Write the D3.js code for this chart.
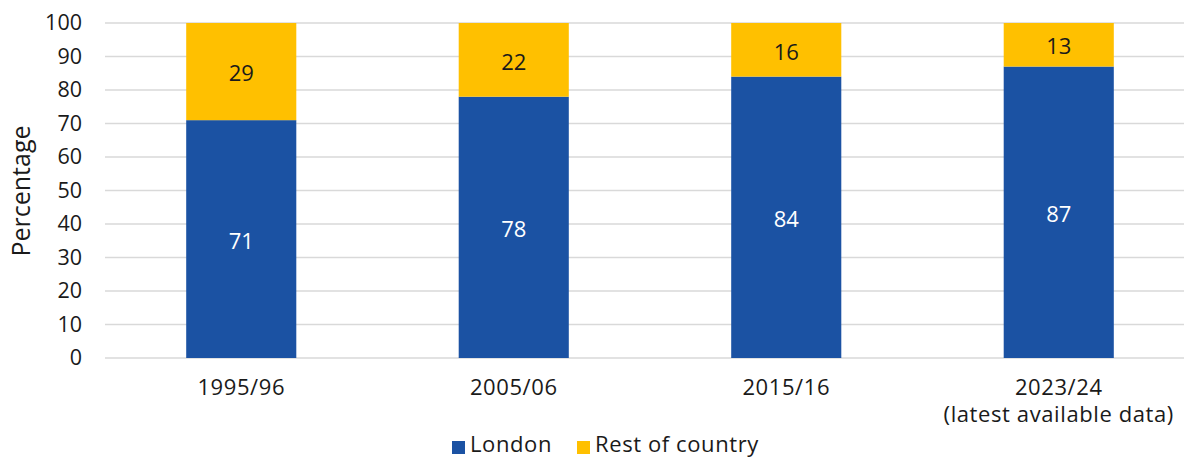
<!DOCTYPE html>
<html><head><meta charset="utf-8">
<script src="https://cdn.jsdelivr.net/npm/d3@7"></script>
<style>body{margin:0;background:#fff}svg{display:block;font-family:"Open Sans",sans-serif}</style>
</head><body><svg id="c" width="1184" height="457"></svg>
<script>
const categories = ["1995/96", "2005/06", "2015/16", "2023/24\n(latest available data)"];
const london = [71, 78, 84, 87];
const rest = [29, 22, 16, 13];
const yTicks = [0,10,20,30,40,50,60,70,80,90,100];
const seriesNames = ["London", "Rest of country"];
const colors = ["#1B52A3", "#FFC000"];

const svg = d3.select("#c");
const x = d3.scaleBand().domain(categories).range([105, 1195]).paddingInner(0.596).paddingOuter(0.298);
const y = d3.scaleLinear().domain([0, 100]).range([358, 23]);
const txt = "#1a1a1a";

// gridlines
svg.append("g").selectAll("line").data(yTicks).join("line")
  .attr("x1", 105).attr("x2", 1195)
  .attr("y1", d => y(d)).attr("y2", d => y(d))
  .attr("stroke", "#D9D9D9").attr("stroke-width", 1.5);

// y axis
const ya = svg.append("g").attr("transform", "translate(90,0)")
  .call(d3.axisLeft(y).tickValues(yTicks).tickSize(0).tickPadding(8));
ya.select(".domain").remove();
ya.selectAll("text").attr("font-size", 21.5).attr("fill", txt).attr("font-family", "Open Sans");

svg.append("text").attr("transform", "translate(30,191) rotate(-90)")
  .attr("text-anchor", "middle").attr("font-size", 25).attr("fill", txt).text("Percentage");

const data = categories.map((c, i) => ({c, london: london[i], rest: rest[i]}));
const stack = d3.stack().keys(["london", "rest"])(data);

const g = svg.append("g");
stack.forEach((s, si) => {
  g.selectAll(null).data(s).join("rect")
    .attr("x", d => x(d.data.c)).attr("width", x.bandwidth())
    .attr("y", d => y(d[1])).attr("height", d => y(d[0]) - y(d[1]))
    .attr("fill", colors[si]);
  g.selectAll(null).data(s).join("text")
    .attr("x", d => x(d.data.c) + x.bandwidth() / 2)
    .attr("y", d => (y(d[0]) + y(d[1])) / 2 + 2)
    .attr("dy", "0.35em").attr("text-anchor", "middle")
    .attr("font-size", 22).attr("fill", si === 0 ? "#ffffff" : txt)
    .text(d => d[1] - d[0]);
});

// x axis labels
const xa = svg.append("g");
categories.forEach(c => {
  const lines = c.split("\n");
  const cx = x(c) + x.bandwidth() / 2;
  const t = xa.append("text").attr("x", cx).attr("y", 395)
    .attr("text-anchor", "middle").attr("font-size", 22).attr("fill", txt).attr("letter-spacing", 0.6);
  lines.forEach((l, i) => t.append("tspan").attr("x", cx).attr("dy", i === 0 ? 0 : 27).text(l));
});

// legend
const leg = svg.append("g");
const lx = [452, 577];
seriesNames.forEach((n, i) => {
  leg.append("rect").attr("x", lx[i]).attr("y", 441).attr("width", 13).attr("height", 13).attr("fill", colors[i]);
  leg.append("text").attr("x", lx[i] + 18).attr("y", 452).attr("font-size", 22).attr("fill", txt).attr("letter-spacing", 0.6).text(n);
});
</script></body></html>
